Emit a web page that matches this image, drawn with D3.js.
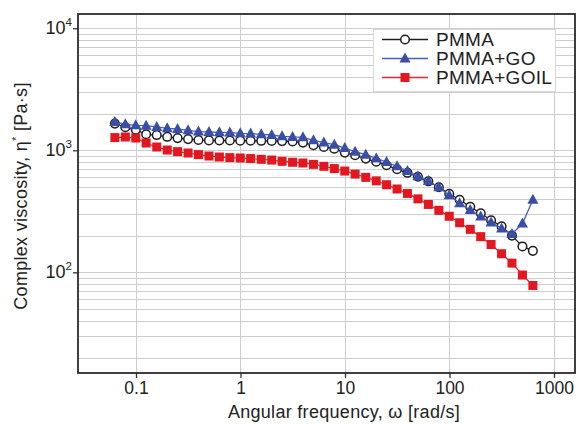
<!DOCTYPE html>
<html>
<head>
<meta charset="utf-8">
<script src="https://cdn.jsdelivr.net/npm/d3@7"></script>
<style>
    body { margin: 0; background: #fff; }
    text { font-family: "Liberation Sans", Arial, sans-serif; fill: #222; }
</style>
</head>
<body>
<div id="chart"></div>
<script>
//Angular frequency (rad/s)
var frequency = [0.0628, 0.0791, 0.0995, 0.125, 0.158, 0.199, 0.250, 0.315, 0.396, 0.499,
    0.628, 0.791, 0.995, 1.25, 1.58, 1.99, 2.50, 3.15, 3.96, 4.99,
    6.28, 7.91, 9.95, 12.5, 15.8, 19.9, 25.0, 31.5, 39.6, 49.9,
    62.8, 79.1, 99.5, 125, 158, 199, 250, 315, 396, 499, 628];

//Complex viscosity (Pa.s)
var pmma = [1655, 1545, 1472, 1353, 1333, 1290, 1259, 1235, 1215, 1205,
    1203, 1202, 1200, 1198, 1196, 1193, 1190, 1180, 1156, 1099,
    1064, 1032, 958, 910, 855, 805, 754, 699, 654, 607,
    557, 498, 440, 393, 344, 305, 267, 238, 200, 163, 150];
var pmmaGO = [1706, 1634, 1603, 1593, 1553, 1514, 1495, 1459, 1423, 1413,
    1404, 1396, 1378, 1370, 1353, 1335, 1302, 1286, 1278, 1208,
    1157, 1113, 1044, 975, 920, 858, 802, 739, 676, 612,
    560, 498, 428, 368, 324, 287, 256, 229, 206, 251, 393];
var pmmaGOIL = [1271, 1285, 1261, 1148, 1064, 1005, 975, 950, 922, 898,
    881, 871, 865, 855, 844, 832, 812, 798, 787, 767,
    739, 708, 676, 638, 600, 562, 522, 482, 443, 400,
    360, 322, 288, 255, 225, 196, 169, 142, 119, 95, 78];

var seriesNames = ["PMMA", "PMMA+GO", "PMMA+GOIL"];
var xTicks = [0.1, 1, 10, 100, 1000];
var yTicks = [100, 1000, 10000];

//Set dimensions
var width = 577,
        height = 424,
        margin = {top: 14, right: 2, bottom: 51, left: 78};

var svg = d3.select("#chart").append("svg")
        .attr("width", width)
        .attr("height", height);

//Log scales
var x = d3.scaleLog()
        .domain([Math.pow(10, -1.555), Math.pow(10, 3.201)])
        .range([margin.left, width - margin.right]);

var y = d3.scaleLog()
        .domain([Math.pow(10, 1.175), Math.pow(10, 4.117)])
        .range([height - margin.bottom, margin.top]);

//Horizontal grid on every minor value
var yGrid = y.ticks().filter(function (d) {
    return d >= 20;
});

svg.append("g")
        .attr("class", "grid")
        .selectAll("line")
        .data(yGrid)
        .enter().append("line")
        .attr("x1", margin.left)
        .attr("x2", width - margin.right)
        .attr("y1", function (d) { return Math.round(y(d)) + 0.5; })
        .attr("y2", function (d) { return Math.round(y(d)) + 0.5; })
        .style("stroke", "#cdcdcd")
        .style("stroke-width", 1);

//Vertical grid on decades only
svg.append("g")
        .attr("class", "grid")
        .selectAll("line")
        .data(xTicks)
        .enter().append("line")
        .attr("x1", function (d) { return Math.round(x(d)) + 0.5; })
        .attr("x2", function (d) { return Math.round(x(d)) + 0.5; })
        .attr("y1", margin.top)
        .attr("y2", height - margin.bottom)
        .style("stroke", "#cdcdcd")
        .style("stroke-width", 1);

//X axis
var xAxis = svg.append("g")
        .attr("transform", "translate(0," + (height - margin.bottom) + ")")
        .call(d3.axisBottom(x).tickValues(xTicks).tickSize(5).tickPadding(4)
                .tickFormat(function (d) { return d < 1 ? d3.format(".1f")(d) : d3.format("d")(d); }));
xAxis.select(".domain").remove();
xAxis.selectAll("line").style("stroke", "#333").style("stroke-width", 1.3);
xAxis.selectAll("text")
        .style("font-size", "17.5px")
        .style("font-family", "'Liberation Sans', Arial, sans-serif")
        .style("fill", "#222");

//Y axis
var yAxis = svg.append("g")
        .attr("transform", "translate(" + margin.left + ",0)")
        .call(d3.axisLeft(y).tickValues(yTicks).tickSize(5).tickFormat(""));
yAxis.select(".domain").remove();
yAxis.selectAll("line").style("stroke", "#333").style("stroke-width", 1.3);

//Power of ten tick labels
var yLabels = svg.append("g").selectAll("text")
        .data(yTicks)
        .enter().append("text")
        .attr("x", 72)
        .attr("y", function (d) { return y(d) + 6; })
        .attr("text-anchor", "end")
        .style("font-size", "18px");
yLabels.append("tspan").text("10");
yLabels.append("tspan")
        .attr("dy", -8)
        .style("font-size", "11.5px")
        .text(function (d) { return Math.round(Math.log10(d)); });

//Frame
svg.append("rect")
        .attr("x", margin.left)
        .attr("y", margin.top)
        .attr("width", width - margin.right - margin.left)
        .attr("height", height - margin.bottom - margin.top)
        .style("fill", "none")
        .style("stroke", "#2b2b2b")
        .style("stroke-width", 1.8);

//Axis titles
svg.append("text")
        .attr("x", 344)
        .attr("y", 418)
        .attr("text-anchor", "middle")
        .style("font-size", "18px")
        .style("letter-spacing", "0.3px")
        .text("Angular frequency, \u03c9 [rad/s]");

var yTitle = svg.append("text")
        .attr("transform", "translate(27,196) rotate(-90)")
        .attr("text-anchor", "middle")
        .style("font-size", "18px")
        .style("letter-spacing", "0.3px");
yTitle.append("tspan").text("Complex viscosity, \u03b7");
yTitle.append("tspan").attr("dy", -7).style("font-size", "11px").text("*");
yTitle.append("tspan").attr("dy", 7).text(" [Pa\u00b7s]");

//Series table
var series = [
    {name: seriesNames[0], values: pmma, line: "#1e1e1e", fill: "#fff", stroke: "#1e1e1e", shape: "circle"},
    {name: seriesNames[1], values: pmmaGO, line: "#4a5bc4", fill: "#3a4ea6", stroke: "#3a4ea6", shape: "triangle"},
    {name: seriesNames[2], values: pmmaGOIL, line: "#e8262b", fill: "#e3171f", stroke: "#e3171f", shape: "square"}
];

var line = d3.line()
        .x(function (d) { return x(d[0]); })
        .y(function (d) { return y(d[1]); });

function marker(sel, s) {
    if (s.shape === "circle") {
        sel.append("circle")
                .attr("r", 4.3)
                .style("fill", s.fill)
                .style("stroke", s.stroke)
                .style("stroke-width", 1.5);
    } else if (s.shape === "triangle") {
        sel.append("path")
                .attr("d", "M0,-6L5.5,4L-5.5,4Z")
                .style("fill", s.fill);
    } else {
        sel.append("rect")
                .attr("x", -4.5)
                .attr("y", -4.5)
                .attr("width", 9)
                .attr("height", 9)
                .style("fill", s.fill);
    }
}

var plot = svg.append("g");

series.forEach(function (s) {
    var pts = frequency.map(function (f, i) { return [f, s.values[i]]; });

    plot.append("path")
            .datum(pts)
            .attr("d", line)
            .style("fill", "none")
            .style("stroke", s.line)
            .style("stroke-width", 1.3);

    plot.append("g").selectAll("g")
            .data(pts)
            .enter().append("g")
            .attr("transform", function (d) { return "translate(" + x(d[0]) + "," + y(d[1]) + ")"; })
            .each(function () { marker(d3.select(this), s); });
});

//Legend
var legend = svg.append("g");
legend.append("rect")
        .attr("x", 373.5)
        .attr("y", 29.5)
        .attr("width", 182)
        .attr("height", 62)
        .style("fill", "#fff")
        .style("stroke", "#d8d8d8");

var rows = legend.selectAll(".row")
        .data(series)
        .enter().append("g")
        .attr("class", "row")
        .attr("transform", function (d, i) { return "translate(0," + (39.5 + i * 19) + ")"; });

rows.append("line")
        .attr("x1", 382)
        .attr("x2", 428)
        .style("stroke", function (d) { return d.line; })
        .style("stroke-width", 1.3);

rows.append("g")
        .attr("transform", "translate(405,0)")
        .each(function (d) { marker(d3.select(this), d); });

rows.append("text")
        .attr("x", 436)
        .attr("y", 6.5)
        .style("font-size", "19px")
        .style("letter-spacing", "0.3px")
        .text(function (d) { return d.name; });
</script>
</body>
</html>
